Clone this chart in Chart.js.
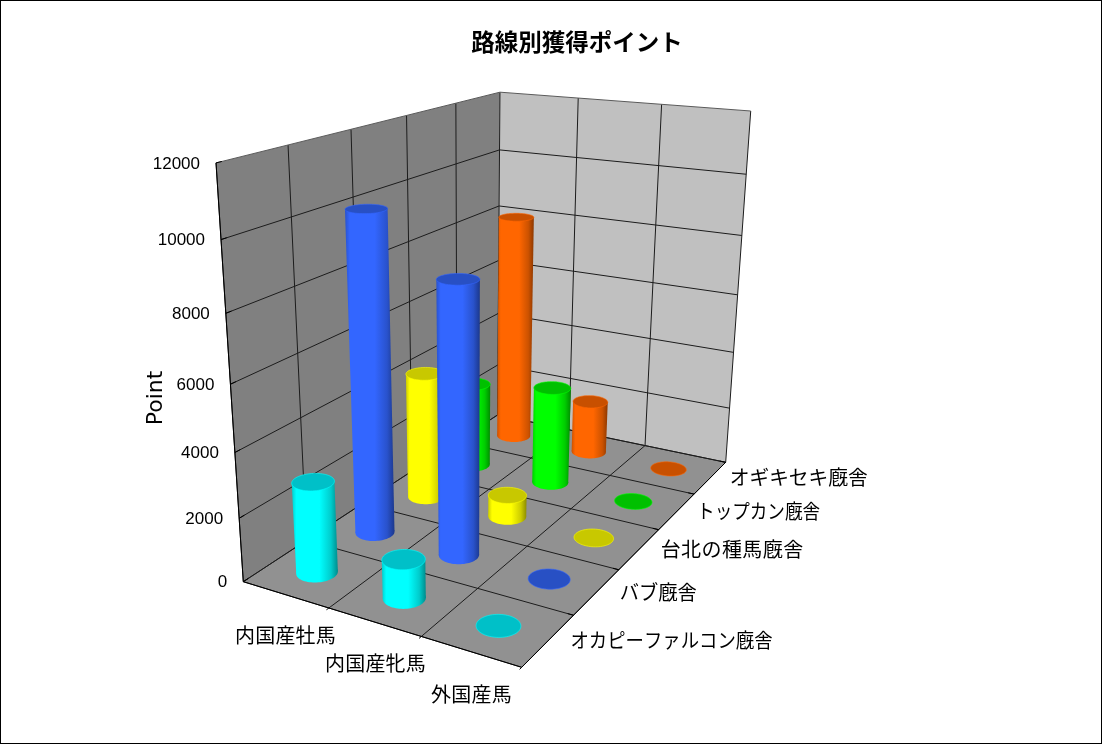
<!DOCTYPE html>
<html>
<head>
<meta charset="utf-8">
<title>路線別獲得ポイント</title>
<script src="https://cdn.jsdelivr.net/npm/chart.js@4"></script>
<style>
    html, body { margin: 0; padding: 0; background: #fff; }
    canvas { display: block; }
</style>
</head>
<body>
<canvas id="chart" width="1102" height="744"></canvas>
<script>
// data
const categories = ['内国産牡馬', '内国産牝馬', '外国産馬'];
const stables = ['オカピーファルコン廐舎', 'バブ廐舎', '台北の種馬廐舎', 'トップカン廐舎', 'オギキセキ廐舎'];
const okapiPoints = [2860, 1200, 0];
const bubPoints = [10100, 8460, 0];
const taipeiPoints = [4240, 730, 0];
const topkanPoints = [2940, 3350, 0];
const okigiPoints = [8060, 1880, 0];
const valueTicks = [0, 2000, 4000, 6000, 8000, 10000, 12000];
const bodyColors = ['#00ffff', '#3366ff', '#ffff00', '#00ff00', '#ff6600'];
const topColors = ['#00c0c8', '#2850c4', '#c8c800', '#00c000', '#c85000'];

// where the box sits on the page: floor (front-left, front, right, back), then wall tops
const floorQuad = [[243.3, 581.7], [521.7, 667.3], [725.7, 462.3], [497.5, 415]];
const topCorners = [
    { u: 0, w: 0, s: [216, 162.7] },
    { u: 0, w: 1, s: [500, 91.7] },
    { u: 1, w: 1, s: [750.7, 111.7] }
];
const cylinderRadius = 0.2; // share of a cell

function buildProjection() {
    const [[x0, y0], [x1, y1], [x2, y2], [x3, y3]] = floorQuad;
    const dx1 = x1 - x2, dx2 = x3 - x2, sx = x0 - x1 + x2 - x3;
    const dy1 = y1 - y2, dy2 = y3 - y2, sy = y0 - y1 + y2 - y3;
    const den = dx1 * dy2 - dx2 * dy1;
    const g = (sx * dy2 - dx2 * sy) / den;
    const h = (dx1 * sy - sx * dy1) / den;
    const a = x1 - x0 + g * x1, b = x3 - x0 + h * x3;
    const d = y1 - y0 + g * y1, e = y3 - y0 + h * y3;

    // height column, least squares over the wall top corners
    const rows = [];
    topCorners.forEach(({ u, w, s }) => {
        const X = a * u + b * w + x0, Y = d * u + e * w + y0, W = g * u + h * w + 1;
        rows.push([1, 0, -s[0], s[0] * W - X]);
        rows.push([0, 1, -s[1], s[1] * W - Y]);
    });
    const m = [0, 1, 2].map(i => [0, 1, 2, 3].map(j => rows.reduce((t, r) => t + r[i] * r[j], 0)));
    for (let i = 0; i < 3; i++) {
        for (let k = 0; k < 3; k++) {
            if (k === i) continue;
            const f = m[k][i] / m[i][i];
            for (let j = i; j < 4; j++) m[k][j] -= f * m[i][j];
        }
    }
    const p = m[0][3] / m[0][0], q = m[1][3] / m[1][1], r = m[2][3] / m[2][2];

    return (u, w, v) => {
        const W = g * u + h * w + r * v + 1;
        return [(a * u + b * w + p * v + x0) / W, (d * u + e * w + q * v + y0) / W];
    };
}
const project = buildProjection();

// scales give positions in page pixels, the box wants 0..1
const uOf = (chart, px) => (px - chart.scales.x.left) / chart.scales.x.width;
const vOf = (chart, px) => (chart.scales.y.bottom - px) / chart.scales.y.height;
const wOf = (chart, index) => {
    const z = chart.scales.z;
    return (z.getPixelForValue(index) - z.left) / z.width;
};

function ring(u, w, v, du, dw) {
    const pts = [];
    for (let i = 0; i < 72; i++) {
        const t = i / 72 * Math.PI * 2;
        pts.push(project(u + du * Math.cos(t), w + dw * Math.sin(t), v));
    }
    return pts;
}

function tracePoly(ctx, pts) {
    pts.forEach((pt, i) => i ? ctx.lineTo(pt[0], pt[1]) : ctx.moveTo(pt[0], pt[1]));
    ctx.closePath();
}

function shade(hex, f) {
    const n = parseInt(hex.slice(1), 16);
    return `rgb(${((n >> 16) & 255) * f}, ${((n >> 8) & 255) * f}, ${(n & 255) * f})`;
}

class CylinderController extends Chart.BarController {
    static id = 'cylinder';
    static defaults = Chart.BarController.defaults;

    draw() {
        const chart = this.chart;
        const ctx = chart.ctx;
        const dsIndex = this.index;
        const body = bodyColors[dsIndex];
        const top = topColors[dsIndex];
        const du = cylinderRadius / categories.length;
        const dw = cylinderRadius / stables.length;
        const w = wOf(chart, dsIndex);

        this._cachedMeta.data.forEach(el => {
            const u = uOf(chart, el.x);
            const v = vOf(chart, el.y);
            const upper = ring(u, w, v, du, dw);

            if (v > 0.001) {
                const lower = ring(u, w, 0, du, dw);
                const byX = pts => pts.reduce((o, p) => [p[0] < o[0][0] ? p : o[0], p[0] > o[1][0] ? p : o[1]], [pts[0], pts[0]]);
                const [upL, upR] = byX(upper);
                const [loL, loR] = byX(lower);
                const grad = ctx.createLinearGradient(Math.min(upL[0], loL[0]), 0, Math.max(upR[0], loR[0]), 0);
                grad.addColorStop(0, shade(body, 0.8));
                grad.addColorStop(0.1, body);
                grad.addColorStop(0.6, body);
                grad.addColorStop(0.85, shade(body, 0.8));
                grad.addColorStop(1, shade(body, 0.55));
                ctx.fillStyle = grad;
                ctx.beginPath();
                tracePoly(ctx, lower);
                ctx.fill();
                ctx.beginPath();
                tracePoly(ctx, [upL, upR, loR, loL]);
                ctx.fill();
            }

            ctx.beginPath();
            tracePoly(ctx, upper);
            ctx.fillStyle = top;
            ctx.fill();
            ctx.save();
            ctx.globalAlpha = 0.6;
            ctx.strokeStyle = body;
            ctx.lineWidth = 1;
            ctx.stroke();
            ctx.restore();
        });
    }
}
Chart.register(CylinderController);

function segment(ctx, a, b) {
    ctx.beginPath();
    ctx.moveTo(a[0], a[1]);
    ctx.lineTo(b[0], b[1]);
    ctx.stroke();
}

function fillQuad(ctx, pts, color) {
    ctx.beginPath();
    tracePoly(ctx, pts);
    ctx.fillStyle = color;
    ctx.fill();
}

// short piece of a line, starting at a, heading for b
function stub(ctx, a, b, len) {
    const d = Math.hypot(b[0] - a[0], b[1] - a[1]);
    segment(ctx, a, [a[0] + (b[0] - a[0]) / d * len, a[1] + (b[1] - a[1]) / d * len]);
}

// squeeze or spread a label to the width it has in the picture
function fitText(ctx, text, x, y, width) {
    ctx.letterSpacing = '0px';
    const room = width - ctx.measureText(text).width;
    if (room > 0) ctx.letterSpacing = (room / text.length) + 'px';
    ctx.fillText(text, x, y, width);
    ctx.letterSpacing = '0px';
}

const box3dPlugin = {
    id: 'box3d',
    beforeDatasetsDraw(chart) {
        const ctx = chart.ctx;
        const ticks = chart.scales.y.ticks;
        const vTicks = ticks.map(t => vOf(chart, chart.scales.y.getPixelForValue(t.value)));
        const nu = categories.length, nw = stables.length;

        ctx.save();
        fillQuad(ctx, [project(0, 0, 0), project(0, 1, 0), project(0, 1, 1), project(0, 0, 1)], '#808080');
        fillQuad(ctx, [project(0, 1, 0), project(1, 1, 0), project(1, 1, 1), project(0, 1, 1)], '#c0c0c0');
        fillQuad(ctx, [project(0, 0, 0), project(1, 0, 0), project(1, 1, 0), project(0, 1, 0)], '#919191');

        ctx.lineWidth = 1;
        ctx.strokeStyle = '#1c1c1c';
        // floor grid
        for (let i = 0; i <= nu; i++) segment(ctx, project(i / nu, 0, 0), project(i / nu, 1, 0));
        for (let j = 0; j <= nw; j++) segment(ctx, project(0, j / nw, 0), project(1, j / nw, 0));
        // wall uprights
        for (let j = 0; j <= nw; j++) segment(ctx, project(0, j / nw, 0), project(0, j / nw, 1));
        for (let i = 1; i <= nu; i++) segment(ctx, project(i / nu, 1, 0), project(i / nu, 1, 1));
        // wall rows
        vTicks.forEach((v, n) => {
            ctx.strokeStyle = n === vTicks.length - 1 ? '#5a5a5a' : '#1c1c1c';
            segment(ctx, project(0, 0, v), project(0, 1, v));
            segment(ctx, project(0, 1, v), project(1, 1, v));
        });

        // tick marks
        ctx.strokeStyle = '#000';
        vTicks.forEach(v => stub(ctx, project(0, 0, v), project(0, 1, v), 6));
        for (let i = 1; i <= nu; i++) stub(ctx, project(i / nu, 0, 0), project(i / nu, 1, 0), -3);
        for (let j = 1; j <= nw; j++) stub(ctx, project(1, j / nw, 0), project(0, j / nw, 0), 6);
        segment(ctx, project(0, 0, 0), project(0, 0, 1));
        segment(ctx, project(0, 0, 0), project(1, 0, 0));
        segment(ctx, project(1, 0, 0), project(1, 1, 0));
        ctx.restore();
    },
    afterDatasetsDraw(chart) {
        const ctx = chart.ctx;
        const nu = categories.length, nw = stables.length;
        const labelFont = '20px "Noto Sans CJK JP"';

        ctx.save();
        ctx.fillStyle = '#000';
        ctx.textBaseline = 'middle';

        ctx.font = 'bold 23.5px "Noto Sans CJK JP"';
        ctx.textAlign = 'center';
        ctx.fillText('路線別獲得ポイント', 577, 42);

        // value axis
        ctx.font = '17px "Liberation Sans"';
        ctx.textAlign = 'right';
        chart.scales.y.ticks.forEach(t => {
            const pt = project(0, 0, vOf(chart, chart.scales.y.getPixelForValue(t.value)));
            ctx.fillText(String(t.value), pt[0] - 16, pt[1] + 1);
        });

        // category axis
        const catLeft = [235, 325, 431];
        const catWidth = [101, 101, 81];
        ctx.font = labelFont;
        ctx.textAlign = 'left';
        categories.forEach((name, i) => {
            const pt = project((i + 1) / nu, 0, 0);
            fitText(ctx, name, catLeft[i], pt[1] + 27, catWidth[i]);
        });

        // depth axis
        const stableWidth = [202, 77, 143, 123, 138];
        const stableShift = [-3, 1, 2, 3, 4];
        stables.forEach((name, j) => {
            const pt = project(1, (j + 1) / nw, 0);
            fitText(ctx, name, pt[0] + stableShift[j], pt[1] + 25 - 2.5 * j, stableWidth[j]);
        });

        // axis title
        ctx.translate(156, 398);
        ctx.rotate(-Math.PI / 2);
        ctx.textAlign = 'center';
        ctx.font = '22px "DejaVu Sans"';
        ctx.fillText('Point', 0, 0);
        ctx.restore();

        // frame round the picture
        ctx.strokeStyle = '#000';
        ctx.lineWidth = 1;
        ctx.strokeRect(0.5, 0.5, chart.width - 1, chart.height - 1);
    }
};

const series = [okapiPoints, bubPoints, taipeiPoints, topkanPoints, okigiPoints];

new Chart(document.getElementById('chart'), {
    type: 'cylinder',
    data: {
        labels: categories,
        datasets: series.map((values, i) => ({ label: stables[i], data: values, grouped: false }))
    },
    options: {
        responsive: false,
        devicePixelRatio: 1,
        animation: false,
        layout: { padding: 0 },
        plugins: { legend: { display: false }, tooltip: { enabled: false } },
        scales: {
            x: { type: 'category', display: false, offset: true },
            y: {
                type: 'linear', display: false, min: valueTicks[0], max: valueTicks[valueTicks.length - 1],
                ticks: { stepSize: valueTicks[1] - valueTicks[0] }
            },
            z: { type: 'category', axis: 'x', display: false, offset: true, labels: stables }
        }
    },
    plugins: [box3dPlugin]
});
</script>
</body>
</html>
